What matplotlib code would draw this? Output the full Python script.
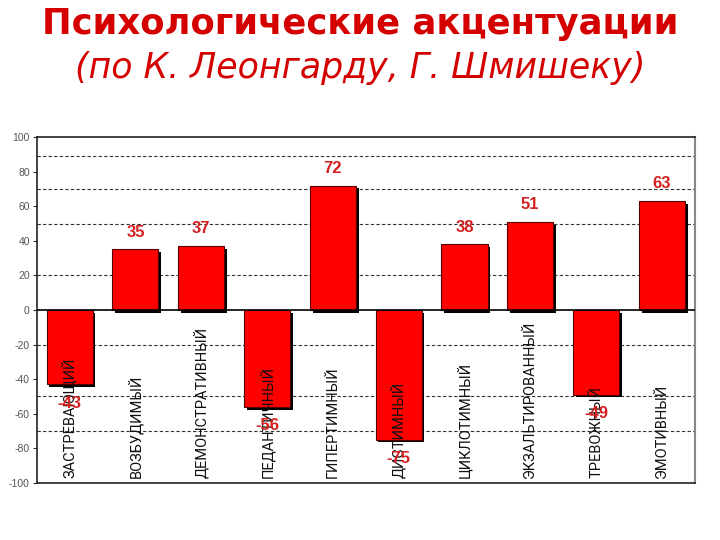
import matplotlib
matplotlib.use("Agg")
import matplotlib.pyplot as plt
import matplotlib.patheffects as pe

# accentuation scores (Leonhard / Shmishek)
categories = ["ЗАСТРЕВАЮЩИЙ", "ВОЗБУДИМЫЙ", "ДЕМОНСТРАТИВНЫЙ", "ПЕДАНТИЧНЫЙ",
              "ГИПЕРТИМНЫЙ", "ДИСТИМНЫЙ", "ЦИКЛОТИМНЫЙ", "ЭКЗАЛЬТИРОВАННЫЙ",
              "ТРЕВОЖНЫЙ", "ЭМОТИВНЫЙ"]
scores = [-43, 35, 37, -56, 72, -75, 38, 51, -49, 63]
grid_levels = [-70, -50, -20, 20, 50, 70, 89]
yticks = [-100, -80, -60, -40, -20, 0, 20, 40, 60, 80, 100]

fig = plt.figure(figsize=(7.2, 5.4), dpi=100)
fig.text(0.5, 0.956, "Психологические акцентуации", ha="center", va="center",
         fontsize=25.5, fontweight="bold", color="#d40000", family="DejaVu Sans")
fig.text(0.5, 0.874, "(по К. Леонгарду, Г. Шмишеку)", ha="center", va="center",
         fontsize=25, style="italic", color="#d40000", family="DejaVu Sans")

ax = fig.add_axes([0.051, 0.106, 0.914, 0.640])
x = list(range(len(categories)))
bars = ax.bar(x, scores, width=0.7, color="#ff0000", edgecolor="#550000",
              linewidth=0.8, zorder=3)
for b in bars:
    b.set_path_effects([pe.SimplePatchShadow(offset=(2, -2), shadow_rgbFace="black", alpha=1.0),
                        pe.Normal()])

for lv in grid_levels:
    ax.axhline(lv, color="#333333", linestyle=(0, (3, 2)), linewidth=0.8, zorder=1)
ax.axhline(0, color="black", linewidth=1.2, zorder=4)

for xi, v in zip(x, scores):
    off = 10 if v > 0 else -11
    ax.text(xi, v + off, str(v), ha="center", va="center", fontsize=12,
            fontweight="bold", color="#d42020", zorder=6, family="Liberation Sans")

for xi, name in zip(x, categories):
    ax.text(xi, -97, name, rotation=90, ha="center", va="bottom", fontsize=10.5,
            color="#111111", zorder=5, family="Roboto")

ax.set_xlim(-0.5, len(categories) - 0.5)
ax.set_ylim(-100, 100)
ax.set_yticks(yticks)
ax.set_yticklabels([str(t) for t in yticks], fontsize=7.5, color="#555555",
                   family="Liberation Sans")
ax.set_xticks([])
ax.tick_params(axis="y", length=3, width=0.8, color="#333333", pad=2)
for s in ["left", "bottom", "top"]:
    ax.spines[s].set_color("#222222")
    ax.spines[s].set_linewidth(1.2)
ax.spines["right"].set_color("#888888")
ax.spines["right"].set_linewidth(1.5)

fig.savefig("out.png", dpi=100)
